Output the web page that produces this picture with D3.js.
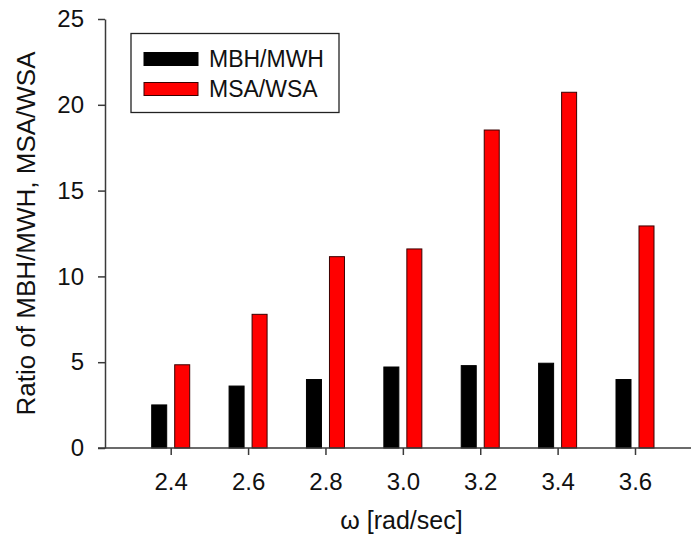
<!DOCTYPE html>
<html>
<head>
<meta charset="utf-8">
<script src="https://cdn.jsdelivr.net/npm/d3@7/dist/d3.min.js"></script>
<style>
  html, body { margin: 0; padding: 0; background: #fff; }
  svg { display: block; font-family: "Liberation Sans", Arial, sans-serif; }
</style>
</head>
<body>
<svg id="chart" width="691" height="546"></svg>
<script>
// Frequencies (rad/sec) on the x axis
const omegas = [2.4, 2.6, 2.8, 3.0, 3.2, 3.4, 3.6];
// Ratio of MBH/MWH
const mbhMwh = [2.51, 3.61, 3.99, 4.72, 4.80, 4.94, 3.99];
// Ratio of MSA/WSA
const msaWsa = [4.85, 7.79, 11.15, 11.60, 18.53, 20.73, 12.94];
const yTicks = [0, 5, 10, 15, 20, 25];
const seriesNames = ["MBH/MWH", "MSA/WSA"];
const seriesFill = ["#000000", "#ff0000"];
const seriesStroke = ["#000000", "#3a0000"];

const svg = d3.select("#chart");
const axisColor = "#3a3a3a";

const x = d3.scaleLinear().domain([2.4, 3.6]).range([170.7, 635]);
const y = d3.scaleLinear().domain([0, 25]).range([448, 19]);
const yAxisX = 105;

const barW = 15;
const offsets = [-19, 4];

const series = [mbhMwh, msaWsa];
series.forEach((vals, si) => {
  svg.append("g")
    .selectAll("rect")
    .data(vals.map((v, i) => ({ w: omegas[i], v })))
    .join("rect")
    .attr("x", d => x(d.w) + offsets[si])
    .attr("y", d => y(d.v))
    .attr("width", barW)
    .attr("height", d => y(0) - y(d.v))
    .attr("fill", seriesFill[si])
    .attr("stroke", seriesStroke[si])
    .attr("stroke-width", 1);
});

// y axis
const yAxis = svg.append("g")
  .attr("transform", `translate(${yAxisX},0)`)
  .call(d3.axisLeft(y).tickValues(yTicks).tickFormat(d3.format("d")).tickSize(7).tickSizeOuter(0).tickPadding(14));
yAxis.select(".domain").attr("stroke", axisColor).attr("stroke-width", 1.5);
yAxis.selectAll(".tick line").attr("stroke", axisColor).attr("stroke-width", 1.5);
yAxis.selectAll(".tick text")
  .attr("font-size", 24).attr("fill", "#111")
  .attr("font-family", "Liberation Sans, Arial, sans-serif");

// x axis
const xAxis = svg.append("g")
  .attr("transform", `translate(0,${y(0)})`)
  .call(d3.axisBottom(x).tickValues(omegas).tickFormat(d3.format(".1f")).tickSize(7).tickSizeOuter(0).tickPadding(18));
xAxis.select(".domain")
  .attr("d", `M${yAxisX - 7},0H${x.range()[1] + 60}`)
  .attr("stroke", axisColor).attr("stroke-width", 1.5);
xAxis.selectAll(".tick line").attr("stroke", axisColor).attr("stroke-width", 1.5);
xAxis.selectAll(".tick text")
  .attr("font-size", 24).attr("fill", "#111")
  .attr("font-family", "Liberation Sans, Arial, sans-serif");

// axis titles
svg.append("text")
  .attr("transform", `translate(35,${(y(0) + y(25)) / 2}) rotate(-90)`)
  .attr("text-anchor", "middle")
  .attr("font-size", 26)
  .attr("fill", "#111")
  .text("Ratio of MBH/MWH, MSA/WSA");

svg.append("text")
  .attr("x", 401.5)
  .attr("y", 529)
  .attr("text-anchor", "middle")
  .attr("font-size", 25)
  .attr("fill", "#111")
  .text("ω [rad/sec]");

// legend
const legend = svg.append("g");
legend.append("rect")
  .attr("x", 131).attr("y", 33.5)
  .attr("width", 208).attr("height", 79)
  .attr("fill", "#fff").attr("stroke", "#222").attr("stroke-width", 1.3);
const rowY = [59, 89];
seriesNames.forEach((name, i) => {
  legend.append("rect")
    .attr("x", 144).attr("y", rowY[i] - 6.5)
    .attr("width", 54).attr("height", 13)
    .attr("fill", seriesFill[i]).attr("stroke", seriesStroke[i]).attr("stroke-width", 1);
  legend.append("text")
    .attr("x", 209).attr("y", rowY[i])
    .attr("dy", "0.36em")
    .attr("font-size", 23)
    .attr("fill", "#111")
    .text(name);
});
</script>
</body>
</html>
